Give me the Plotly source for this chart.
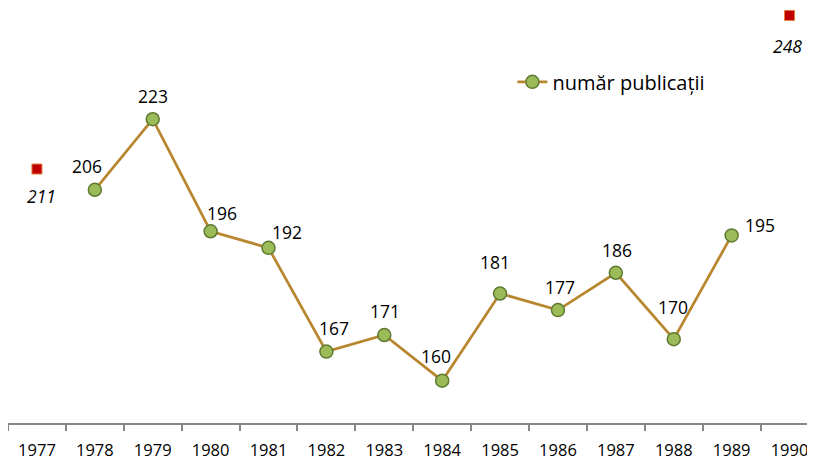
import plotly.graph_objects as go

years = [str(y) for y in range(1977, 1991)]
line_years = [str(y) for y in range(1978, 1990)]
line_values = [206, 223, 196, 192, 167, 171, 160, 181, 177, 186, 170, 195]
extra_years = ["1977", "1990"]
extra_values = [211, 248]
series_name = "număr publicații"

# label offsets (pixels) from each point, styling only
line_label_shift = [(-8, 24), (0, 23), (11, 18), (18, 16), (8, 24), (1, 24),
                    (-6, 25), (-5, 32), (2, 23), (1, 23), (-1, 32), (28, 10)]
extra_label_shift = [(5, -27), (-2, -31)]

FONT = "Open Sans"

fig = go.Figure()
fig.add_trace(go.Scatter(
    x=line_years, y=line_values, mode="lines+markers", name=series_name,
    line=dict(color="#B8862E", width=2.75),
    marker=dict(size=13, color="#9BBB59", line=dict(color="#5F7A30", width=1.5)),
    cliponaxis=False,
))
fig.add_trace(go.Scatter(
    x=extra_years, y=extra_values, mode="markers", showlegend=False,
    marker=dict(symbol="square", size=10, color="#C00000", line=dict(color="#E0803A", width=1)),
    cliponaxis=False,
))

for x, v, (dx, dy) in zip(line_years, line_values, line_label_shift):
    fig.add_annotation(x=years.index(x), y=v, text=str(v), showarrow=False,
                       xshift=dx, yshift=dy,
                       font=dict(family=FONT, size=17.5, color="#000000"))
for x, v, (dx, dy) in zip(extra_years, extra_values, extra_label_shift):
    fig.add_annotation(x=years.index(x), y=v, text="<i>" + str(v) + "</i>", showarrow=False,
                       xshift=dx, yshift=dy,
                       font=dict(family=FONT, size=17.5, color="#000000"))

fig.update_layout(
    width=807, height=452,
    margin=dict(l=0, r=0, t=0, b=37, autoexpand=False),
    plot_bgcolor="white", paper_bgcolor="white",
    font=dict(family=FONT, size=17, color="#000000"),
    legend=dict(x=0.625, y=0.822, xanchor="left", yanchor="middle",
                font=dict(size=20), bgcolor="rgba(0,0,0,0)"),
    xaxis=dict(type="category", categoryorder="array", categoryarray=years,
               range=[-0.5, 13.44], showgrid=False, showline=True, linecolor="#878787",
               linewidth=2, ticks="outside", tickson="boundaries", ticklen=6,
               tickwidth=1.5, tickcolor="#878787", tickfont=dict(size=16.5),
               ticklabelstandoff=11, zeroline=False, automargin=False),
    yaxis=dict(range=[149.8, 249.8], visible=False, showgrid=False, zeroline=False),
)

fig.write_html("out.html")
